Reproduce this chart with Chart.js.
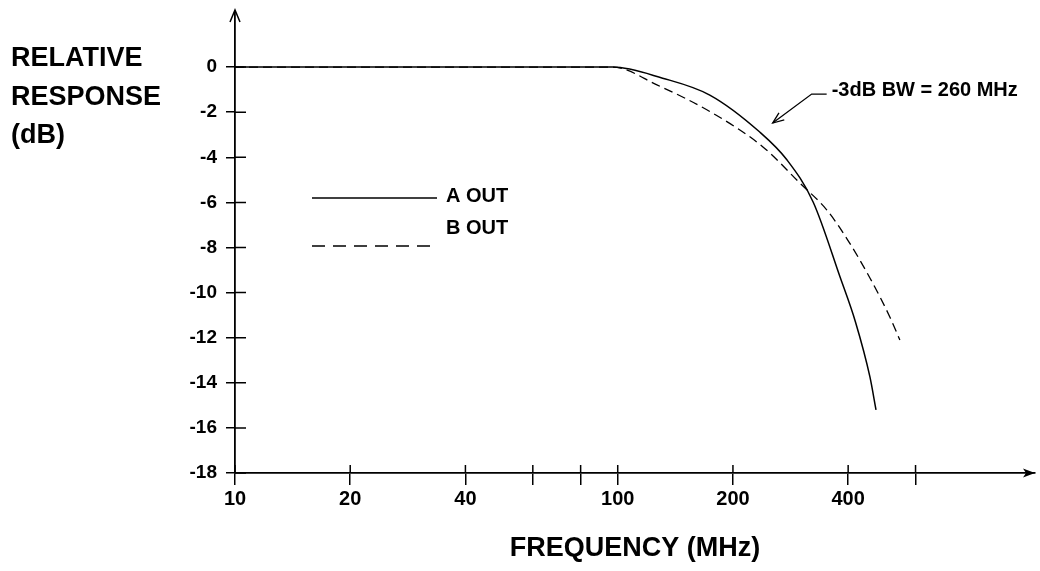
<!DOCTYPE html>
<html>
<head>
<meta charset="utf-8">
<script src="https://cdn.jsdelivr.net/npm/chart.js@4/dist/chart.umd.min.js"></script>
<style>
  html, body { margin: 0; padding: 0; background: #fff; }
  #wrap { width: 1040px; height: 571px; }
</style>
</head>
<body>
<div id="wrap"><canvas id="resp" width="1040" height="571"></canvas></div>
<script>
// data
const seriesNames = ['A OUT', 'B OUT'];
const freqA = [10, 97, 131, 174, 235, 277, 324, 381, 418, 456, 473];
const respA = [0, 0, -0.49, -1.24, -2.88, -4.12, -5.98, -9.31, -11.3, -13.74, -15.2];
const freqB = [10, 97, 127, 177, 240, 299, 352, 399, 456, 514, 546];
const respB = [0, 0, -0.80, -2.04, -3.55, -5.14, -6.34, -7.67, -9.35, -11.08, -12.10];

// axes
const xTicks = [10, 20, 40, 60, 80, 100, 200, 400, 600];
const xTickLabels = ['10', '20', '40', '', '', '100', '200', '400', ''];
const yTicks = [0, -2, -4, -6, -8, -10, -12, -14, -16, -18];

// annotation
const noteText = '-3dB BW = 260 MHz';
const notePoint = {x: 254, y: -2.48};

Chart.defaults.font.family = '"Liberation Sans", Arial, Helvetica, sans-serif';
Chart.defaults.color = '#000';

const toXY = (xs, ys) => xs.map((x, i) => ({x: x, y: ys[i]}));

//setup
const data = {
    datasets: [{
        label: seriesNames[0],
        data: toXY(freqA, respA),
        borderColor: '#000',
        borderWidth: 1.5,
        legendDash: []
    }, {
        label: seriesNames[1],
        data: toXY(freqB, respB),
        borderColor: '#000',
        borderWidth: 1.3,
        borderDash: [9, 5],
        legendDash: [13, 8]
    }]
};

// ticks crossing the axes, arrow heads, legend, annotation, y title
const decor = {
    id: 'decor',
    afterDraw(chart) {
        const ctx = chart.ctx;
        const area = chart.chartArea;
        const xs = chart.scales.x, ys = chart.scales.y;
        ctx.save();
        ctx.strokeStyle = '#000';
        ctx.fillStyle = '#000';
        ctx.lineWidth = 1.5;

        // inner half of tick marks
        ctx.beginPath();
        ys.ticks.forEach(t => {
            const py = ys.getPixelForValue(t.value);
            ctx.moveTo(area.left, py);
            ctx.lineTo(area.left + 11, py);
        });
        xs.ticks.forEach(t => {
            const px = xs.getPixelForValue(t.value);
            ctx.moveTo(px, area.bottom);
            ctx.lineTo(px, area.bottom - 8);
        });
        ctx.stroke();

        // arrow heads
        ctx.beginPath();
        ctx.moveTo(area.left, area.top);
        ctx.lineTo(area.left, area.top - 3);
        ctx.moveTo(area.left - 5, area.top + 9);
        ctx.lineTo(area.left, area.top - 3);
        ctx.lineTo(area.left + 5, area.top + 9);
        ctx.stroke();
        ctx.beginPath();
        ctx.moveTo(area.right, area.bottom);
        ctx.lineTo(area.right - 12, area.bottom - 4.5);
        ctx.lineTo(area.right - 9, area.bottom);
        ctx.lineTo(area.right - 12, area.bottom + 4.5);
        ctx.closePath();
        ctx.fill();

        // legend
        const legY = [198, 246];
        const txtY = [196, 228];
        ctx.font = 'bold 20px "Liberation Sans", Arial, sans-serif';
        ctx.textBaseline = 'middle';
        ctx.textAlign = 'left';
        chart.data.datasets.forEach((ds, i) => {
            ctx.beginPath();
            ctx.lineWidth = 1.5;
            ctx.setLineDash(ds.legendDash);
            ctx.moveTo(312, legY[i]);
            ctx.lineTo(437, legY[i]);
            ctx.stroke();
            ctx.setLineDash([]);
            ctx.fillText(ds.label, 446, txtY[i]);
        });

        // -3dB annotation
        const tx = xs.getPixelForValue(notePoint.x);
        const ty = ys.getPixelForValue(notePoint.y);
        ctx.lineWidth = 1.3;
        ctx.beginPath();
        ctx.moveTo(tx + 54, ty - 29);
        ctx.lineTo(tx + 39, ty - 29);
        ctx.lineTo(tx, ty);
        ctx.stroke();
        // direction of travel towards the tip
        const ang = Math.atan2(29, -39);
        ctx.beginPath();
        ctx.moveTo(tx - 12 * Math.cos(ang - 0.38), ty - 12 * Math.sin(ang - 0.38));
        ctx.lineTo(tx, ty);
        ctx.lineTo(tx - 12 * Math.cos(ang + 0.38), ty - 12 * Math.sin(ang + 0.38));
        ctx.stroke();
        ctx.fillText(noteText, tx + 59, ty - 33);

        // y title
        ctx.font = 'bold 27px "Liberation Sans", Arial, sans-serif';
        ['RELATIVE', 'RESPONSE', '(dB)'].forEach((s, i) => {
            ctx.fillText(s, 11, 59 + i * 38.5);
        });
        ctx.restore();
    }
};

//options
const options = {
    responsive: false,
    animation: false,
    devicePixelRatio: 1,
    layout: { padding: { top: 13, right: 5, left: 0, bottom: 0 } },
    elements: {
        point: { radius: 0 },
        line: { cubicInterpolationMode: 'monotone' }
    },
    plugins: {
        legend: { display: false },
        tooltip: { enabled: false }
    },
    scales: {
        x: {
            type: 'logarithmic',
            min: 10,
            max: 1231,
            afterBuildTicks: s => { s.ticks = xTicks.map(v => ({value: v})); },
            afterFit: s => { s.height = 98; s.paddingLeft = 0; s.paddingRight = 0; },
            ticks: {
                autoSkip: false,
                maxRotation: 0,
                padding: 2,
                font: { size: 20, weight: 'bold' },
                callback: (v, i) => xTickLabels[i]
            },
            grid: { drawOnChartArea: false, color: '#000', lineWidth: 1.5, tickLength: 12 },
            border: { color: '#000', width: 1.8 },
            title: {
                display: true,
                text: 'FREQUENCY (MHz)',
                font: { size: 27, weight: 'bold' },
                padding: { top: 0, bottom: 6 }
            }
        },
        y: {
            min: -18,
            max: 2.4,
            afterBuildTicks: s => { s.ticks = yTicks.map(v => ({value: v})); },
            afterFit: s => { s.width = 235; s.paddingTop = 0; s.paddingBottom = 0; },
            ticks: {
                padding: 9,
                font: { size: 19, weight: 'bold' }
            },
            grid: { drawOnChartArea: false, color: '#000', lineWidth: 1.5, tickLength: 9 },
            border: { color: '#000', width: 1.8 }
        }
    }
};

//config
const config = {
    type: 'line',
    data: data,
    options,
    plugins: [decor]
};

//render init
const chart = new Chart(document.getElementById('resp'), config);
</script>
</body>
</html>
